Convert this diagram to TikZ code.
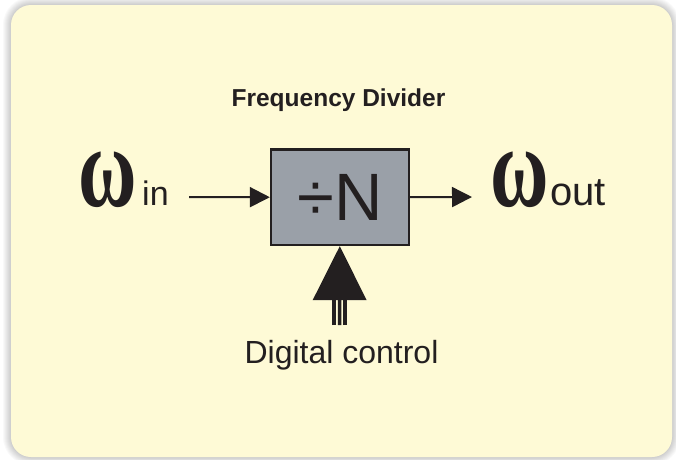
\documentclass[tikz,border=0pt]{standalone}
\usepackage{fontspec}
\setmainfont{Liberation Sans}
\newfontfamily\omegafont{Liberation Serif}
\usetikzlibrary{arrows.meta}
\definecolor{bgyellow}{HTML}{FEFAD6}
\definecolor{boxgray}{HTML}{9AA0A8}
\definecolor{ink}{HTML}{231F20}
\newcommand{\bigomega}{\scalebox{1}[1.45]{\omegafont\bfseries\fontsize{80}{80}\selectfont ω}}
\begin{document}
\begin{tikzpicture}[x=1pt,y=-1pt,
  conn/.style={draw=ink, line width=2pt, -{Triangle[length=20pt,width=20pt]}},
  lbl/.style={inner sep=0pt, text=ink},
  bar/.style={draw=ink, line width=3.6pt}]
\useasboundingbox (0,0) rectangle (676,459);
\fill[white] (0,0) rectangle (676,459);
\foreach \i in {1,...,8}
  \fill[black,opacity=0.025,rounded corners=20+\i] (11-\i,5-\i) rectangle (672+\i,457+\i);
\fill[bgyellow, rounded corners=20] (11,5) rectangle (672,457);

\node[draw=ink, line width=2.2pt, fill=boxgray, minimum width=137.7pt, minimum height=95.6pt, inner sep=0pt, text=ink]
  (div) at (339.8,197.2) {\fontsize{67}{67}\selectfont ÷N};

\node[lbl, anchor=base] (title) at (338.5,106) {\bfseries\fontsize{24.5}{24.5}\selectfont Frequency Divider};
\node[lbl, anchor=base] (omin) at (107.5,206.5) {\bigomega};
\node[lbl, anchor=base west] (tin) at (142,205) {\fontsize{34}{34}\selectfont in};
\node[lbl, anchor=base] (omout) at (520,206.5) {\bigomega};
\node[lbl, anchor=base west] (tout) at (550,205) {\fontsize{40}{40}\selectfont out};
\node[lbl, anchor=base] (dig) at (341.5,363) {\fontsize{32}{32}\selectfont Digital control};

\coordinate (inL) at (189,197);
\coordinate (outR) at (472,197);
\draw[conn] (inL) -- (div.west);
\draw[conn] (div.east) -- (outR);

\coordinate (c) at (339.6,325);
\draw[bar, -{Triangle[length=54pt,width=53pt]}] (c) -- (div.south);
\draw[bar] ([xshift=-5.8pt]c) -- ++(0,-27);
\draw[bar] ([xshift=5.6pt]c) -- ++(0,-27);
\end{tikzpicture}
\end{document}
